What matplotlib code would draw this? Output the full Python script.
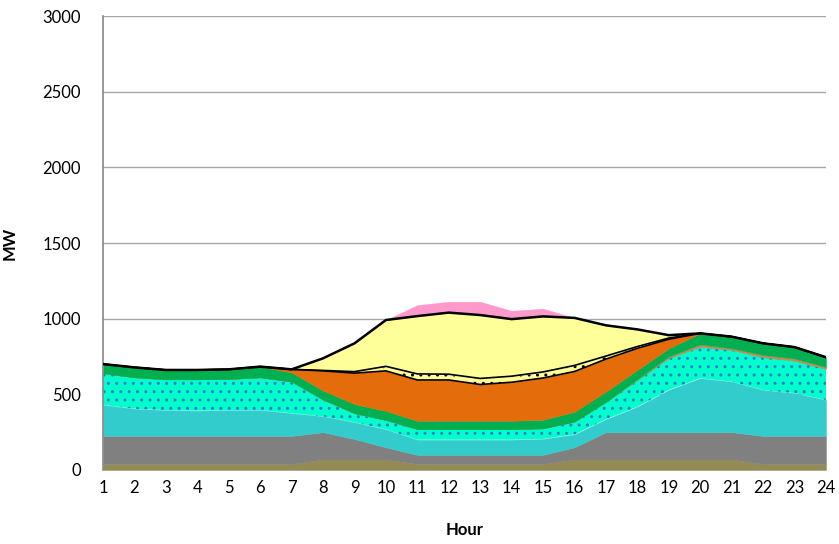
import matplotlib
matplotlib.use("Agg")
import matplotlib.pyplot as plt
import numpy as np

hours = list(range(1, 25))

# MW per layer, bottom to top
olive = [40] * 7 + [70, 70, 70] + [40] * 5 + [70] * 6 + [40] * 3
gray = [185] * 7 + [180, 135, 80] + [60] * 5 + [80] + [180] * 5 + [185] * 3
turquoise = [205, 180, 170, 167, 170, 171, 150, 105, 110, 118, 100, 100,
             100, 100, 105, 85, 85, 168, 279, 356, 334, 304, 283, 238]
aqua_dots = [210, 207, 204, 207, 206, 216, 209, 110, 60, 62, 70, 70,
             70, 70, 70, 85, 115, 177, 211, 209, 209, 216, 214, 205]
tan = [0] * 17 + [6, 10, 15, 11, 15, 15, 12]
green = [60, 66, 62, 62, 64, 71, 61, 60, 61, 60, 55, 55,
         55, 55, 57, 65, 68, 60, 54, 73, 77, 77, 75, 65]
orange = [0] * 6 + [20, 130, 204, 265, 270, 270, 240, 255, 276, 266, 215, 143, 60] + [0] * 5
yellow_dots = [0] * 7 + [3, 10, 30, 40, 38, 40, 40, 40, 40, 20, 12, 8] + [0] * 5
light_yellow = [0] * 7 + [80, 187, 306, 382, 407, 419, 377, 367, 314, 203, 113, 19] + [0] * 5
pink = [0] * 10 + [73, 72, 88, 55, 51] + [0] * 9

layers = [
    (olive, '#948A54', None, None),
    (gray, '#808080', None, None),
    (turquoise, '#33CCCC', None, None),
    (aqua_dots, '#00FFCC', '..', '#1F7FC8'),
    (tan, '#C8884F', None, None),
    (green, '#00B050', None, None),
    (orange, '#E46C0A', None, None),
    (yellow_dots, '#FFFF99', '..', '#000000'),
    (light_yellow, '#FFFF99', None, None),
    (pink, '#FF99CC', None, None),
]

plt.rcParams['font.family'] = ['Lato', 'DejaVu Sans']
plt.rcParams['hatch.linewidth'] = 1.0

fig = plt.figure(figsize=(8.39, 5.44), dpi=100)
ax = fig.add_axes([103 / 839, 1 - 470 / 544, (826 - 103) / 839, (470 - 16) / 544])

x = np.array(hours)
base = np.zeros(len(hours))
tops = []
for vals, color, hatch, hcolor in layers:
    top = base + np.array(vals)
    if hatch:
        ax.fill_between(x, base, top, facecolor=color, edgecolor=hcolor,
                        hatch=hatch, linewidth=0, zorder=2)
    else:
        ax.fill_between(x, base, top, facecolor=color, edgecolor=color,
                        linewidth=0.3, zorder=2)
    tops.append(top)
    base = top

# black borders of the two yellow series
ax.plot(x, tops[6], color='black', lw=1.2, zorder=3)
ax.plot(x, tops[7], color='black', lw=1.2, zorder=3)
ax.plot(x, tops[8], color='black', lw=1.8, zorder=3)

ax.set_xlim(1, 24)
ax.set_ylim(0, 3000)
ax.set_xticks(hours)
ax.set_yticks(range(0, 3001, 500))
ax.yaxis.grid(True, color='#A6A6A6', lw=1)
ax.set_axisbelow(True)
for s in ['top', 'right', 'bottom']:
    ax.spines[s].set_visible(False)
ax.spines['left'].set_color('#888888')
ax.spines['left'].set_linewidth(1.2)
ax.tick_params(axis='both', length=0, labelsize=12)
ax.tick_params(axis='y', pad=16)
ax.tick_params(axis='x', pad=7)

ax.set_ylabel('MW', fontweight='bold', fontsize=12)
ax.yaxis.set_label_coords(-0.118, 0.5)
ax.set_xlabel('Hour', fontweight='bold', fontsize=12)
ax.xaxis.set_label_coords(0.5, -0.115)

fig.savefig('out.png', dpi=100)
